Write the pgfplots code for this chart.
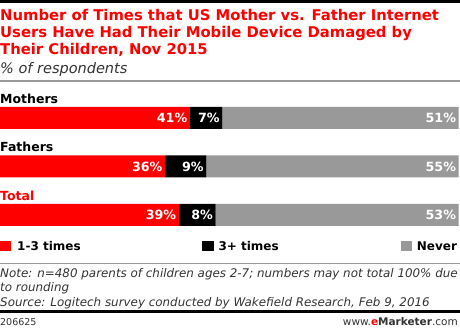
\documentclass[border=0pt]{standalone}
\usepackage{pgfplots}
\pgfplotsset{compat=1.18}
\usepackage{pgfplotstable}
\usepackage{fontspec}
\setmainfont{DejaVu Sans}
\definecolor{emred}{HTML}{FF0000}
\definecolor{emgray}{HTML}{999999}
\definecolor{linegray}{HTML}{999999}
\definecolor{txtgray}{HTML}{333333}

% y: 2 = Mothers, 1 = Fathers, 0 = Total
\pgfplotstableread{
y a b c
2 41 7 51
1 36 9 55
0 39 8 53
}\data

\pgfplotsset{barframe/.style={
  at={(0pt,-215pt)}, anchor=origin,
  disabledatascaling,
  scale only axis, width=458.7pt, height=145.5pt,
  hide axis,
  xmin=0, xmax=100, ymin=-0.5, ymax=2.5,
  clip=false,
}}

\begin{document}
\begin{tikzpicture}[x=1pt,y=1pt]
\useasboundingbox (0,0) rectangle (460,-328);
% top rule
\fill[black] (0,0) rectangle (460,-2.7);
% title
\node[anchor=base west,inner sep=0,text=emred,font=\fontsize{14.8}{17}\selectfont\bfseries] at (0,-20.3) {Number of Times that US Mother vs. Father Internet};
\node[anchor=base west,inner sep=0,text=emred,font=\fontsize{14.8}{17}\selectfont\bfseries] at (0,-37.6) {Users Have Had Their Mobile Device Damaged by};
\node[anchor=base west,inner sep=0,text=emred,font=\fontsize{14.8}{17}\selectfont\bfseries] at (0,-55) {Their Children, Nov 2015};
\node[anchor=base west,inner sep=0,text=txtgray,font=\fontsize{14.5}{16}\selectfont\itshape] at (0,-74) {\% of respondents};
\draw[linegray,line width=1.2pt] (0,-81) -- (460,-81);

% bars
\begin{axis}[barframe, xbar stacked, bar width=22pt]
\addplot[fill=emred, draw=none] table[y=y, x expr=\thisrow{a}*100/(\thisrow{a}+\thisrow{b}+\thisrow{c})] {\data};
\addplot[fill=black, draw=none] table[y=y, x expr=\thisrow{b}*100/(\thisrow{a}+\thisrow{b}+\thisrow{c})] {\data};
\addplot[fill=emgray, draw=none] table[y=y, x expr=\thisrow{c}*100/(\thisrow{a}+\thisrow{b}+\thisrow{c})] {\data};
\end{axis}

% value labels at the right end of each segment
\begin{axis}[barframe,
  point meta=explicit symbolic,
  nodes near coords={\pgfplotspointmeta\%},
  every node near coord/.append style={anchor=east, inner sep=0pt, xshift=-2.5pt, text=white,
     font=\fontsize{12.7}{14}\selectfont\bfseries},
]
\addplot[draw=none, mark=none] table[y=y, x expr=\thisrow{a}*100/(\thisrow{a}+\thisrow{b}+\thisrow{c}), meta=a] {\data};
\addplot[draw=none, mark=none] table[y=y, x expr=(\thisrow{a}+\thisrow{b})*100/(\thisrow{a}+\thisrow{b}+\thisrow{c}), meta=b] {\data};
\addplot[draw=none, mark=none] table[y=y, x expr=(\thisrow{a}+\thisrow{b}+\thisrow{c})*100/(\thisrow{a}+\thisrow{b}+\thisrow{c}), meta=c] {\data};
\end{axis}

% category labels
\node[anchor=base west,inner sep=0,font=\fontsize{12.5}{14}\selectfont\bfseries] at (0,-103.3) {Mothers};
\node[anchor=base west,inner sep=0,font=\fontsize{12.5}{14}\selectfont\bfseries] at (0,-151.8) {Fathers};
\node[anchor=base west,inner sep=0,text=emred,font=\fontsize{12.5}{14}\selectfont\bfseries] at (0,-200.3) {Total};

% legend
\fill[emred] (0,-241) rectangle (10.7,-251.5);
\node[anchor=base west,inner sep=0,font=\fontsize{12}{14}\selectfont\bfseries] at (17,-250.7) {1-3 times};
\fill[black] (202,-241) rectangle (213.7,-251.5);
\node[anchor=base west,inner sep=0,font=\fontsize{12}{14}\selectfont\bfseries] at (218.3,-250.7) {3+ times};
\fill[emgray] (400.7,-241) rectangle (412.3,-251.5);
\node[anchor=base west,inner sep=0,font=\fontsize{12}{14}\selectfont\bfseries] at (416.7,-250.7) {Never};

\draw[linegray,line width=1.2pt] (0,-263.3) -- (460,-263.3);
% notes
\node[anchor=base west,inner sep=0,text=txtgray,font=\fontsize{11.9}{14}\selectfont\itshape] at (0,-277.5) {Note: n=480 parents of children ages 2-7; numbers may not total 100\% due};
\node[anchor=base west,inner sep=0,text=txtgray,font=\fontsize{11.9}{14}\selectfont\itshape] at (0,-291.7) {to rounding};
\node[anchor=base west,inner sep=0,text=txtgray,font=\fontsize{11.9}{14}\selectfont\itshape] at (0,-306) {Source: Logitech survey conducted by Wakefield Research, Feb 9, 2016};
\fill[black] (0,-310.5) rectangle (460,-313.2);
% footer
\node[anchor=base west,inner sep=0,text=txtgray,font=\fontsize{9.5}{11}\selectfont] at (0,-325) {206625};
\node[anchor=base east,inner sep=0,text=txtgray,font=\fontsize{10.5}{12}\selectfont] at (458,-325) {www.\textcolor{emred}{\textbf{e}}\textbf{Marketer}.com};
\end{tikzpicture}
\end{document}
